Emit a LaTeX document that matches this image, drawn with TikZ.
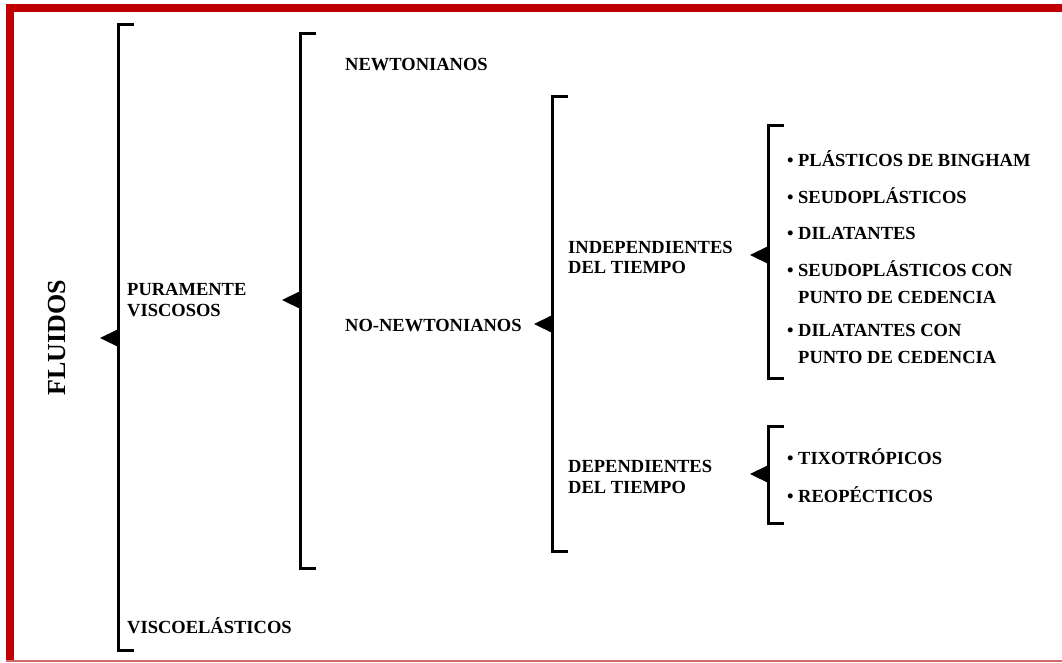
\documentclass[tikz,border=0pt]{standalone}
\usepackage{fontspec}
\setmainfont{Liberation Serif}
\begin{document}
\begin{tikzpicture}[x=1pt,y=-1pt,
  brk/.style={line width=3pt,line cap=butt,line join=miter},
  lbl/.style={anchor=base west,inner sep=0pt,align=left,
    font=\bfseries\fontsize{18.5}{21}\selectfont},
  item/.style={lbl,font=\bfseries\fontsize{18.5}{27}\selectfont},
  title/.style={inner sep=0pt,rotate=90,font=\bfseries\fontsize{26}{30}\selectfont}]
\definecolor{frame}{HTML}{C00000}
\definecolor{frameline}{HTML}{D06A6A}
\useasboundingbox (0,0) rectangle (1062,662);
\fill[white] (0,0) rectangle (1062,662);
% red frame: heavy top and left bars, thin bottom rule
\fill[frame] (6,4) rectangle (1062,12);
\fill[frame] (6,4) rectangle (14,660);
\fill[frameline] (6,659.5) rectangle (1062,662);

% brackets with their pointers
\newcommand{\bracketat}[4]{% x, ytop, ybottom, tip y
  \draw[brk] (#1+16,#2) -- (#1,#2) -- (#1,#3) -- (#1+16,#3);
  \fill[black] (#1+1.5,#4-9.5) -- (#1-18,#4) -- (#1+1.5,#4+9.5) -- cycle;}
\bracketat{118}{24}{650}{338}
\bracketat{300}{33}{568}{300}
\bracketat{552}{96}{551}{324}
\bracketat{768}{125}{378}{255}
\bracketat{768}{426}{523}{474}

% titles and labels (multi-line nodes sit on their last baseline)
\node[title] (fl) at (57,338) {FLUIDOS};
\node[lbl] (pv) at (127,316.5) {PURAMENTE\\VISCOSOS};
\node[lbl] (ve) at (127,633) {VISCOELÁSTICOS};
\node[lbl] (nw) at (345,70) {NEWTONIANOS};
\node[lbl] (nn) at (345,331) {NO-NEWTONIANOS};
\node[lbl,font=\bfseries\fontsize{18.5}{20}\selectfont] (it) at (568,273) {INDEPENDIENTES\\DEL TIEMPO};
\node[lbl] (dt) at (568,493) {DEPENDIENTES\\DEL TIEMPO};

% time-independent kinds
\newcommand{\bul}{\llap{\textbullet\ }}
\node[item] (i1) at (798,166) {\bul PLÁSTICOS DE BINGHAM};
\node[item] (i2) at (798,203) {\bul SEUDOPLÁSTICOS};
\node[item] (i3) at (798,239) {\bul DILATANTES};
\node[item] (i4) at (798,303) {\bul SEUDOPLÁSTICOS CON\\PUNTO DE CEDENCIA};
\node[item] (i5) at (798,363) {\bul DILATANTES CON\\PUNTO DE CEDENCIA};

% time-dependent kinds
\node[item] (d1) at (798,464) {\bul TIXOTRÓPICOS};
\node[item] (d2) at (798,502) {\bul REOPÉCTICOS};
\end{tikzpicture}
\end{document}
